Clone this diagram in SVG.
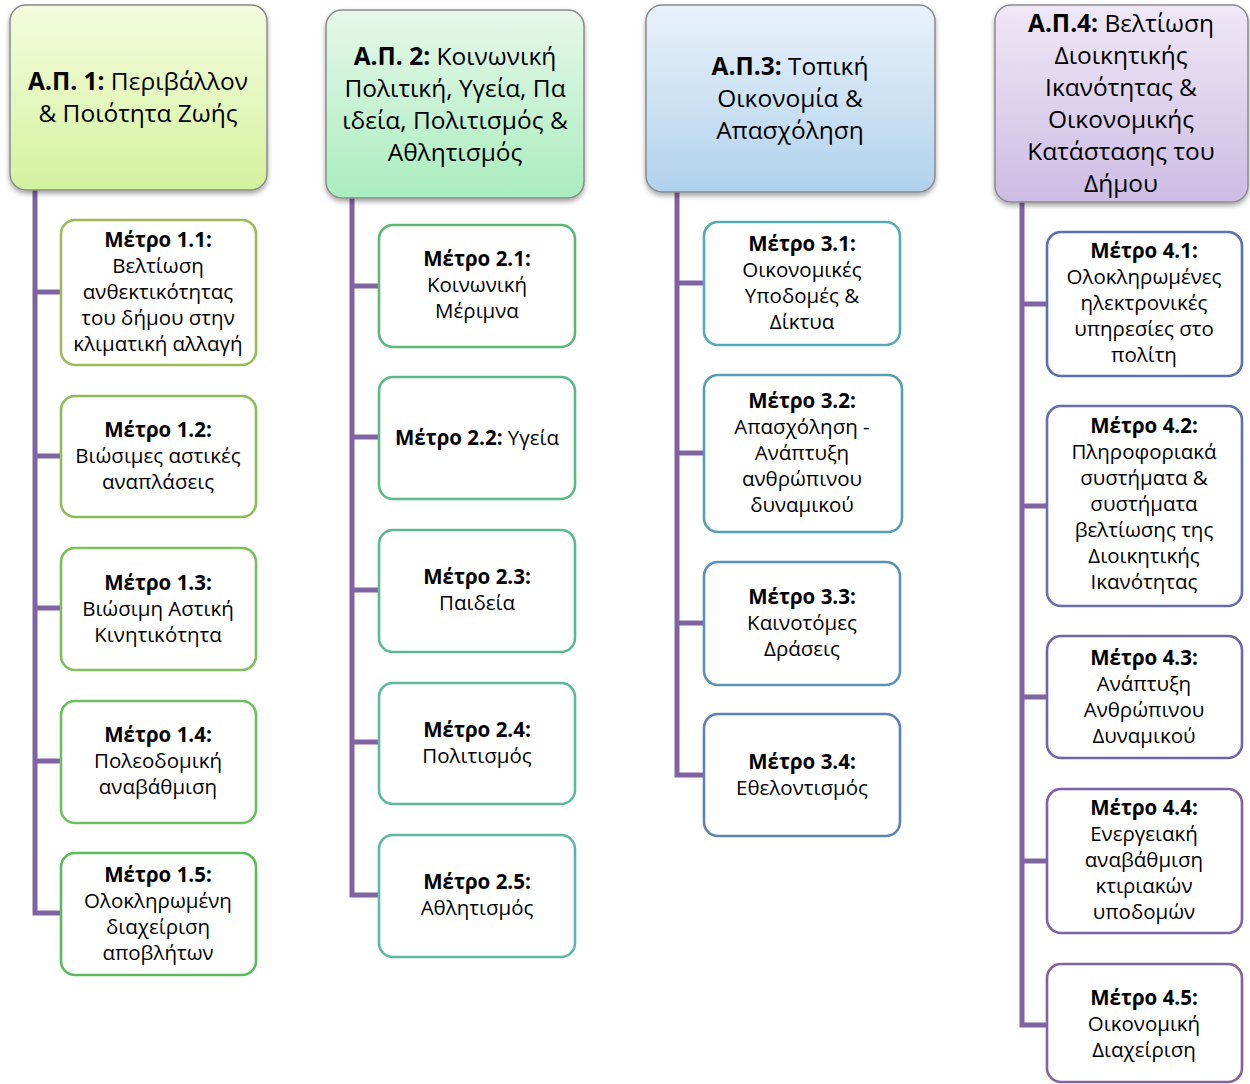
<svg xmlns="http://www.w3.org/2000/svg" width="1250" height="1084" viewBox="0 0 1250 1084">
<style>
text{font-family:"Open Sans","Noto Sans","Liberation Sans",sans-serif;fill:#000;text-anchor:middle}
.h{font-size:24.5px}
.m{font-size:20.5px}
.b{font-weight:bold}
.hdr{stroke:#8a8a8a;stroke-width:1.5}
.box{fill:#fff;stroke-width:2.6}
.conn{stroke:#8064a2;stroke-width:5;fill:none;stroke-linejoin:miter}
</style>
<defs>
<linearGradient id="g1" x1="0" y1="0" x2="0" y2="1"><stop offset="0" stop-color="#f6fcdf"/><stop offset="1" stop-color="#d3f29e"/></linearGradient>
<linearGradient id="g2" x1="0" y1="0" x2="0" y2="1"><stop offset="0" stop-color="#e6f8ea"/><stop offset="1" stop-color="#a9edbd"/></linearGradient>
<linearGradient id="g3" x1="0" y1="0" x2="0" y2="1"><stop offset="0" stop-color="#e9f2fb"/><stop offset="1" stop-color="#b1d2ec"/></linearGradient>
<linearGradient id="g4" x1="0" y1="0" x2="0" y2="1"><stop offset="0" stop-color="#efe8f6"/><stop offset="1" stop-color="#cdbce4"/></linearGradient>
<filter id="sh" x="-10%" y="-10%" width="120%" height="125%"><feDropShadow dx="0" dy="3" stdDeviation="2.5" flood-color="#000" flood-opacity="0.35"/></filter>
</defs>

<g id="connectors">
<path class="conn" d="M35,190 V913 H61 M35,292 H61 M35,456 H61 M35,608 H61 M35,761 H61"/>
<path class="conn" d="M352,198 V895 H379 M352,286 H379 M352,437 H379 M352,590 H379 M352,742 H379"/>
<path class="conn" d="M677,192 V775 H704 M677,283 H704 M677,453 H704 M677,623 H704"/>
<path class="conn" d="M1022,202 V1025 H1047 M1022,304 H1047 M1022,506 H1047 M1022,697 H1047 M1022,861 H1047"/>
</g>

<g id="ap1">
<rect class="hdr" x="10" y="5" width="257" height="185" rx="16" fill="url(#g1)" filter="url(#sh)"/>
<text class="h" x="138" y="90"><tspan class="b">Α.Π. 1:</tspan> Περιβάλλον</text>
<text class="h" x="138" y="122">&amp; Ποιότητα Ζωής</text>
</g>
<g id="m11">
<rect class="box" x="61" y="220" width="195" height="145" rx="14" stroke="#9bbb59"/>
<text class="m b" x="158" y="247">Μέτρο 1.1:</text>
<text class="m" x="158" y="273">Βελτίωση</text>
<text class="m" x="158" y="299">ανθεκτικότητας</text>
<text class="m" x="158" y="325">του δήμου στην</text>
<text class="m" x="158" y="351">κλιματική αλλαγή</text>
</g>
<g id="m12">
<rect class="box" x="61" y="396" width="195" height="121" rx="14" stroke="#8fbc5a"/>
<text class="m b" x="158" y="437">Μέτρο 1.2:</text>
<text class="m" x="158" y="463">Βιώσιμες αστικές</text>
<text class="m" x="158" y="489">αναπλάσεις</text>
</g>
<g id="m13">
<rect class="box" x="61" y="548" width="195" height="122" rx="14" stroke="#7ebd5c"/>
<text class="m b" x="158" y="590">Μέτρο 1.3:</text>
<text class="m" x="158" y="616">Βιώσιμη Αστική</text>
<text class="m" x="158" y="642">Κινητικότητα</text>
</g>
<g id="m14">
<rect class="box" x="61" y="701" width="195" height="122" rx="14" stroke="#6cbf5e"/>
<text class="m b" x="158" y="742">Μέτρο 1.4:</text>
<text class="m" x="158" y="768">Πολεοδομική</text>
<text class="m" x="158" y="794">αναβάθμιση</text>
</g>
<g id="m15">
<rect class="box" x="61" y="853" width="195" height="122" rx="14" stroke="#5cba5c"/>
<text class="m b" x="158" y="882">Μέτρο 1.5:</text>
<text class="m" x="158" y="908">Ολοκληρωμένη</text>
<text class="m" x="158" y="934">διαχείριση</text>
<text class="m" x="158" y="960">αποβλήτων</text>
</g>

<g id="ap2">
<rect class="hdr" x="326" y="10" width="258" height="188" rx="16" fill="url(#g2)" filter="url(#sh)"/>
<text class="h" x="455" y="65"><tspan class="b">Α.Π. 2:</tspan> Κοινωνική</text>
<text class="h" x="455" y="97">Πολιτική, Υγεία, Πα</text>
<text class="h" x="455" y="129">ιδεία, Πολιτισμός &amp;</text>
<text class="h" x="455" y="161">Αθλητισμός</text>
</g>
<g id="m21">
<rect class="box" x="379" y="225" width="196" height="122" rx="14" stroke="#5cb775"/>
<text class="m b" x="477" y="266">Μέτρο 2.1:</text>
<text class="m" x="477" y="292">Κοινωνική</text>
<text class="m" x="477" y="318">Μέριμνα</text>
</g>
<g id="m22">
<rect class="box" x="379" y="377" width="196" height="122" rx="14" stroke="#5cb987"/>
<text class="m" x="477" y="445"><tspan class="b">Μέτρο 2.2:</tspan> Υγεία</text>
</g>
<g id="m23">
<rect class="box" x="379" y="530" width="196" height="122" rx="14" stroke="#5cb891"/>
<text class="m b" x="477" y="584">Μέτρο 2.3:</text>
<text class="m" x="477" y="610">Παιδεία</text>
</g>
<g id="m24">
<rect class="box" x="379" y="683" width="196" height="121" rx="14" stroke="#5db89c"/>
<text class="m b" x="477" y="737">Μέτρο 2.4:</text>
<text class="m" x="477" y="763">Πολιτισμός</text>
</g>
<g id="m25">
<rect class="box" x="379" y="835" width="196" height="122" rx="14" stroke="#5fb8a6"/>
<text class="m b" x="477" y="889">Μέτρο 2.5:</text>
<text class="m" x="477" y="915">Αθλητισμός</text>
</g>

<g id="ap3">
<rect class="hdr" x="646" y="5" width="289" height="187" rx="16" fill="url(#g3)" filter="url(#sh)"/>
<text class="h" x="790" y="75"><tspan class="b">Α.Π.3:</tspan> Τοπική</text>
<text class="h" x="790" y="107">Οικονομία &amp;</text>
<text class="h" x="790" y="139">Απασχόληση</text>
</g>
<g id="m31">
<rect class="box" x="704" y="222" width="196" height="123" rx="14" stroke="#56aab6"/>
<text class="m b" x="802" y="251">Μέτρο 3.1:</text>
<text class="m" x="802" y="277">Οικονομικές</text>
<text class="m" x="802" y="303">Υποδομές &amp;</text>
<text class="m" x="802" y="329">Δίκτυα</text>
</g>
<g id="m32">
<rect class="box" x="704" y="375" width="198" height="157" rx="14" stroke="#559eb4"/>
<text class="m b" x="802" y="408">Μέτρο 3.2:</text>
<text class="m" x="802" y="434">Απασχόληση -</text>
<text class="m" x="802" y="460">Ανάπτυξη</text>
<text class="m" x="802" y="486">ανθρώπινου</text>
<text class="m" x="802" y="512">δυναμικού</text>
</g>
<g id="m33">
<rect class="box" x="704" y="562" width="196" height="123" rx="14" stroke="#5a91b6"/>
<text class="m b" x="802" y="604">Μέτρο 3.3:</text>
<text class="m" x="802" y="630">Καινοτόμες</text>
<text class="m" x="802" y="656">Δράσεις</text>
</g>
<g id="m34">
<rect class="box" x="704" y="714" width="196" height="122" rx="14" stroke="#5b82b9"/>
<text class="m b" x="802" y="769">Μέτρο 3.4:</text>
<text class="m" x="802" y="795">Εθελοντισμός</text>
</g>

<g id="ap4">
<rect class="hdr" x="995" y="5" width="253" height="197" rx="16" fill="url(#g4)" filter="url(#sh)"/>
<text class="h" x="1121" y="32"><tspan class="b">Α.Π.4:</tspan> Βελτίωση</text>
<text class="h" x="1121" y="64">Διοικητικής</text>
<text class="h" x="1121" y="96">Ικανότητας &amp;</text>
<text class="h" x="1121" y="128">Οικονομικής</text>
<text class="h" x="1121" y="160">Κατάστασης του</text>
<text class="h" x="1121" y="192">Δήμου</text>
</g>
<g id="m41">
<rect class="box" x="1047" y="232" width="195" height="144" rx="14" stroke="#5b70b0"/>
<text class="m b" x="1144" y="258">Μέτρο 4.1:</text>
<text class="m" x="1144" y="284">Ολοκληρωμένες</text>
<text class="m" x="1144" y="310">ηλεκτρονικές</text>
<text class="m" x="1144" y="336">υπηρεσίες στο</text>
<text class="m" x="1144" y="362">πολίτη</text>
</g>
<g id="m42">
<rect class="box" x="1047" y="406" width="195" height="200" rx="14" stroke="#676db0"/>
<text class="m b" x="1144" y="433">Μέτρο 4.2:</text>
<text class="m" x="1144" y="459">Πληροφοριακά</text>
<text class="m" x="1144" y="485">συστήματα &amp;</text>
<text class="m" x="1144" y="511">συστήματα</text>
<text class="m" x="1144" y="537">βελτίωσης της</text>
<text class="m" x="1144" y="563">Διοικητικής</text>
<text class="m" x="1144" y="589">Ικανότητας</text>
</g>
<g id="m43">
<rect class="box" x="1047" y="636" width="195" height="122" rx="14" stroke="#7065aa"/>
<text class="m b" x="1144" y="665">Μέτρο 4.3:</text>
<text class="m" x="1144" y="691">Ανάπτυξη</text>
<text class="m" x="1144" y="717">Ανθρώπινου</text>
<text class="m" x="1144" y="743">Δυναμικού</text>
</g>
<g id="m44">
<rect class="box" x="1047" y="789" width="195" height="144" rx="14" stroke="#7a63a8"/>
<text class="m b" x="1144" y="815">Μέτρο 4.4:</text>
<text class="m" x="1144" y="841">Ενεργειακή</text>
<text class="m" x="1144" y="867">αναβάθμιση</text>
<text class="m" x="1144" y="893">κτιριακών</text>
<text class="m" x="1144" y="919">υποδομών</text>
</g>
<g id="m45">
<rect class="box" x="1047" y="964" width="195" height="118" rx="14" stroke="#8064a2"/>
<text class="m b" x="1144" y="1005">Μέτρο 4.5:</text>
<text class="m" x="1144" y="1031">Οικονομική</text>
<text class="m" x="1144" y="1057">Διαχείριση</text>
</g>
</svg>
